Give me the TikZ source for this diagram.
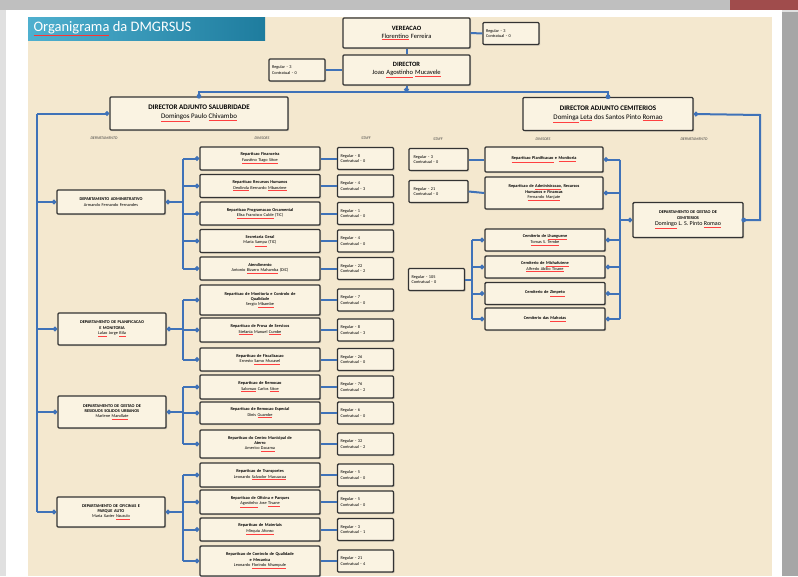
\documentclass[tikz,border=0pt]{standalone}
\usepackage{fontspec}
\setmainfont{Carlito}
\usepackage{xcolor}
\usepackage{tikz}
\usetikzlibrary{arrows.meta,shadows}

\definecolor{paper}{HTML}{F4E8CF}
\definecolor{boxfill}{HTML}{FAF3E2}
\definecolor{linkblue}{HTML}{3F72B8}
\definecolor{bannerL}{HTML}{4FB0CF}
\definecolor{bannerR}{HTML}{1E7C9E}

% red spell-check underline under a name
\newcommand{\sq}[1]{{\color{red!75}\underline{\color{black}#1}}}

\tikzset{
  box/.style={draw=black!80, line width=1.4pt, fill=boxfill, rounded corners=1pt,
    align=center, inner sep=1pt,
    drop shadow={opacity=0.35, shadow xshift=1.2pt, shadow yshift=-1.2pt}},
  topbox/.style={box, minimum width=127pt, minimum height=30pt, text width=122pt,
    font=\fontsize{6.5}{8}\selectfont},
  adjbox/.style={box, minimum height=33pt, font=\fontsize{7}{9}\selectfont},
  deptbox/.style={box, minimum width=108pt, text width=104pt, minimum height=#1,
    font=\fontsize{4.3}{5.4}\selectfont},
  divbox/.style={box, minimum width=120pt, text width=116pt, minimum height=#1,
    font=\fontsize{4.3}{5.4}\selectfont},
  staffbox/.style={box, minimum width=56pt, text width=50pt, minimum height=22pt,
    align=left, font=\fontsize{4.3}{5.6}\selectfont},
  head/.style={font=\fontsize{4}{4}\selectfont\itshape, text=black!75},
  link/.style={draw=linkblue, line width=2pt},
  dot/.tip={Circle[length=4.6pt]},
}

\begin{document}
\begin{tikzpicture}[x=1pt,y=-1pt]
\useasboundingbox (0,0) rectangle (798,576);

% photo backdrop and slide
\fill[black!12] (0,0) rectangle (798,576);
\fill[black!25] (0,0) rectangle (798,10);
\fill[red!55!black,opacity=0.6] (730,0) rectangle (798,10);
\fill[black!35] (782,12) rectangle (798,576);
\fill[white] (6,10) rectangle (782,576);
\fill[paper] (28,17) rectangle (772,576);

% title banner
\shade[left color=bannerL, right color=bannerR] (28,17) rectangle (265,40);
\node[anchor=west, text=white, font=\fontsize{14.5}{15}\selectfont] (title) at (30,28.5)
  {{\color{red!80}\underline{\color{white}Organigrama}} da DMGRSUS};

% top of the chart
\node[topbox] (ver) at (406.5,33) {\textbf{VEREACAO}\\ \sq{Florentino} Ferreira};
\node[staffbox] (verst) at (511,33.5) {Regular - 3\\ Contratual - 0};
\node[topbox] (dir) at (406.5,70) {\textbf{DIRECTOR}\\ Joao \sq{Agostinho} \sq{Mucavele}};
\node[staffbox] (dirst) at (297,70) {Regular - 3\\ Contratual - 0};

\node[adjbox, minimum width=178pt] (sal) at (199,113.5)
  {\textbf{DIRECTOR ADJUNTO SALUBRIDADE}\\ \sq{Domingos} Paulo \sq{Chivambo}};
\node[adjbox, minimum width=170pt] (cem) at (608,114)
  {\textbf{DIRECTOR ADJUNTO CEMITERIOS}\\ \sq{Dominga} \sq{Leta} dos Santos Pinto \sq{Romao}};

\coordinate (bus) at (406.5,92);
\draw[link] (ver.east) -- (verst.west);
\draw[link] (ver.south) -- (dir.north);
\draw[link] (dirst.east) -- (dir.west);
\draw[link,-dot] (dir.south) -- (bus);
\draw[link] (bus) -| (sal.north);
\draw[link] (bus) -| (cem.north);
\fill[linkblue] (sal.north) circle (2.4pt) (cem.north) circle (2.4pt);

% column heads
\node[head] (h1) at (104,138) {DEPARTAMENTO};
\node[head] (h2) at (262,138) {DIVISOES};
\node[head] (h3) at (366,138) {STAFF};
\node[head] (h4) at (438,139) {STAFF};
\node[head] (h5) at (543,139) {DIVISOES};
\node[head] (h6) at (694,139) {DEPARTAMENTO};

% departments of Salubridade
\node[deptbox=24pt] (dadm) at (111,202)
  {\textbf{DEPARTAMENTO ADMINISTRATIVO}\\ Armando Fernando Fernandes};
\node[deptbox=32pt] (dpla) at (112,329)
  {\textbf{DEPARTAMENTO DE PLANIFICACAO\\ E MONITORIA}\\ \sq{Lalao} Jorge \sq{Bila}};
\node[deptbox=32pt] (dres) at (112,412)
  {\textbf{DEPARTAMENTO DE GESTAO DE\\ RESIDUOS SOLIDOS URBANOS}\\ Marlene \sq{Mandlate}};
\node[deptbox=30pt] (dofi) at (111,512)
  {\textbf{DEPARTAMENTO DE OFICINAS E\\ PARQUE AUTO}\\ Maria Xavier \sq{Nzuzulo}};

% divisions of Salubridade
\node[divbox=23pt] (a1) at (260,158.5) {\textbf{Reparticao Financeira}\\ \sq{Faustino Tiago Sitoe}};
\node[divbox=23pt] (a2) at (260,186) {\textbf{Reparticao Recursos Humanos}\\ \sq{Deolinda} Bernardo \sq{Mbanzime}};
\node[divbox=23pt] (a3) at (260,213.5) {\textbf{Reparticao Programacao Orcamental}\\ \sq{Elisa Francisco Cuble} (TIC)};
\node[divbox=23pt] (a4) at (260,241) {\textbf{Secretaria Geral}\\ Maria \sq{Sampa} (TIC)};
\node[divbox=23pt] (a5) at (260,268.5) {\textbf{Atendimento}\\ Antonio \sq{Bizarro Mahamba} (DIC)};

\node[divbox=30pt] (p1) at (260,300) {\textbf{Reparticao de Monitoria e Controlo de\\ Qualidade}\\ Sergio \sq{Mbambe}};
\node[divbox=24pt] (p2) at (260,330) {\textbf{Reparticao de Prova de Servicos}\\ \sq{Stefania} Manuel \sq{Cumbe}};
\node[divbox=23pt] (p3) at (260,359.5) {\textbf{Reparticao de Fiscalizacao}\\ Ernesto \sq{Samo Mucavel}};

\node[divbox=24pt] (r1) at (260,387) {\textbf{Reparticao de Remocao}\\ \sq{Salomao} Carlos \sq{Sitoe}};
\node[divbox=22pt] (r2) at (260,413) {\textbf{Reparticao de Remocao Especial}\\ Dinis \sq{Guambe}};
\node[divbox=28pt] (r3) at (260,444) {\textbf{Reparticao do Centro Municipal de\\ Aterro}\\ Americo \sq{Dacama}};

\node[divbox=24pt] (o1) at (260,475) {\textbf{Reparticao de Transportes}\\ Leonardo \sq{Salvador Macuacua}};
\node[divbox=24pt] (o2) at (260,502) {\textbf{Reparticao de Oficina e Parques}\\ \sq{Agostinho} Jose \sq{Tivane}};
\node[divbox=23pt] (o3) at (260,529.5) {\textbf{Reparticao de Materiais}\\ \sq{Mirquiu Afonso}};
\node[divbox=30pt] (o4) at (260,561) {\textbf{Reparticao de Controlo de Qualidade\\ e Mecanica}\\ Leonardo \sq{Florindo Nhampule}};

% staff of Salubridade
\node[staffbox] (sa1) at (365.5,158.5) {Regular - 8\\ Contratual - 0};
\node[staffbox] (sa2) at (365.5,186) {Regular - 4\\ Contratual - 3};
\node[staffbox] (sa3) at (365.5,213.5) {Regular - 1\\ Contratual - 0};
\node[staffbox] (sa4) at (365.5,241) {Regular - 4\\ Contratual - 0};
\node[staffbox] (sa5) at (365.5,268.5) {Regular - 22\\ Contratual - 2};
\node[staffbox] (sp1) at (365.5,300) {Regular - 7\\ Contratual - 0};
\node[staffbox] (sp2) at (365.5,330) {Regular - 8\\ Contratual - 3};
\node[staffbox] (sp3) at (365.5,359.5) {Regular - 26\\ Contratual - 0};
\node[staffbox] (sr1) at (365.5,387) {Regular - 76\\ Contratual - 2};
\node[staffbox] (sr2) at (365.5,413) {Regular - 6\\ Contratual - 0};
\node[staffbox] (sr3) at (365.5,444) {Regular - 32\\ Contratual - 2};
\node[staffbox] (so1) at (365.5,475) {Regular - 5\\ Contratual - 0};
\node[staffbox] (so2) at (365.5,502) {Regular - 5\\ Contratual - 0};
\node[staffbox] (so3) at (365.5,529.5) {Regular - 3\\ Contratual - 1};
\node[staffbox] (so4) at (365.5,561) {Regular - 21\\ Contratual - 4};

% Salubridade links
\coordinate (spine) at (37,113.5);
\draw[link,-dot] (spine) -- (sal.west);
\draw[link] (spine) -- (spine |- dofi);
\foreach \d in {dadm,dpla,dres,dofi}
  \draw[link,-dot] (spine |- \d) -- (\d.west);

\coordinate (ta) at (183,202);
\coordinate (tp) at (183,329);
\coordinate (tr) at (183,412);
\coordinate (to) at (183,512);
\draw[link,dot-] (dadm.east) -- (ta);
\draw[link,dot-] (dpla.east) -- (tp);
\draw[link,dot-] (dres.east) -- (tr);
\draw[link,dot-] (dofi.east) -- (to);
\draw[link] (ta |- a1) -- (ta |- a5);
\draw[link] (tp |- p1) -- (tp |- p3);
\draw[link] (tr |- r1) -- (tr |- r3);
\draw[link] (to |- o1) -- (to |- o4);
\foreach \v in {a1,a2,a3,a4,a5} \draw[link,-dot] (ta |- \v) -- (\v.west);
\foreach \v in {p1,p2,p3} \draw[link,-dot] (tp |- \v) -- (\v.west);
\foreach \v in {r1,r2,r3} \draw[link,-dot] (tr |- \v) -- (\v.west);
\foreach \v in {o1,o2,o3,o4} \draw[link,-dot] (to |- \v) -- (\v.west);
\foreach \v/\s in {a1/sa1,a2/sa2,a3/sa3,a4/sa4,a5/sa5,p1/sp1,p2/sp2,p3/sp3,
                   r1/sr1,r2/sr2,r3/sr3,o1/so1,o2/so2,o3/so3,o4/so4}
  \draw[link] (\v.east) -- (\s.west);

% Cemiterios
\node[deptbox=35pt, minimum width=110pt] (dcem) at (688,220)
  {\textbf{DEPARTAMENTO DE GESTAO DE\\ CEMITERIOS}\\[1pt] {\fontsize{6}{7}\selectfont \sq{Domingo} L. S. Pinto \sq{Romao}}};

\node[divbox=25pt, minimum width=118pt] (c1) at (544,159.5) {\textbf{\sq{Reparticao Planificacao} e \sq{Monitoria}}};
\node[divbox=32pt, minimum width=118pt] (c2) at (544,193)
  {\textbf{Reparticao de \sq{Administracao}, Recursos\\ Humanos e Financas}\\ \sq{Fernando Manjate}};
\node[divbox=22pt] (c3) at (545,240) {\textbf{Cemiterio de \sq{Lhanguene}}\\ \sq{Tomas S. Tembe}};
\node[divbox=22pt] (c4) at (545,267) {\textbf{Cemiterio de \sq{Michafutene}}\\ \sq{Alfredo Abilio Tivane}};
\node[divbox=22pt] (c5) at (545,293.5) {\textbf{Cemiterio de \sq{Zimpeto}}};
\node[divbox=22pt] (c6) at (545,319) {\textbf{Cemiterio das \sq{Mahotas}}};

\node[staffbox, minimum width=59pt] (sc1) at (438.5,159.5) {Regular - 3\\ Contratual - 0};
\node[staffbox, minimum width=59pt] (sc2) at (438.5,191.5) {Regular - 21\\ Contratual - 0};
\node[staffbox] (sc3) at (436.5,279.5) {Regular - 105\\ Contratual - 0};

\coordinate (rbend) at (760,115);
\draw[link,dot-] (cem.east) -- (rbend) |- (dcem.east);
\fill[linkblue] (dcem.east) circle (2.4pt);

\coordinate (tc) at (620,220);
\draw[link,dot-] (dcem.west) -- (tc);
\draw[link] (tc |- c1) -- (tc |- c6);
\foreach \v in {c1,c2,c3,c4,c5,c6} \draw[link,-dot] (tc |- \v) -- (\v.east);

\draw[link] (sc1.east) -- (c1.west);
\draw[link] (sc2.east) -- (c2.west);
\coordinate (ts) at (472,279.5);
\draw[link] (sc3.east) -- (ts);
\draw[link] (ts |- c3) -- (ts |- c6);
\foreach \v in {c3,c4,c5,c6} \draw[link,-dot] (ts |- \v) -- (\v.west);
\end{tikzpicture}
\end{document}
